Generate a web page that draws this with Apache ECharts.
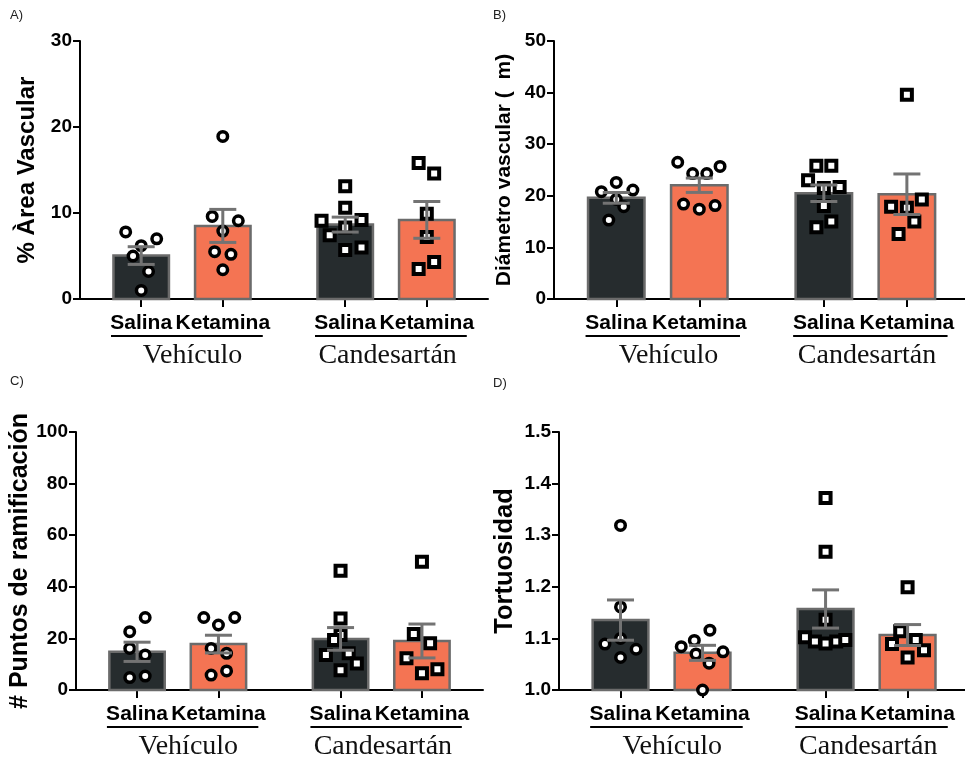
<!DOCTYPE html>
<html>
<head>
<meta charset="utf-8">
<script src="https://cdn.jsdelivr.net/npm/echarts@6/dist/echarts.min.js"></script>
<style>
html, body { margin: 0; padding: 0; background: #fff; }
#main { width: 965px; height: 764px; }
</style>
</head>
<body>
<div id="main"></div>
<script>
// categorias y grupos
var categories = ['Salina', 'Ketamina', 'Salina', 'Ketamina'];
var catX = [1, 2, 3.5, 4.5];
var groups = ['Vehículo', 'Candesartán'];
var panelTitles = ['A)', 'B)', 'C)', 'D)'];
var yNames = ['% Àrea Vascular', 'Diámetro vascular (  m)', '# Puntos de ramificación', 'Tortuosidad'];
var yMin = [0, 0, 0, 1.0];
var yMax = [30, 50, 100, 1.5];
var yStep = [10, 10, 20, 0.1];

// A) % area vascular
var meanA = [5.05, 8.5, 8.65, 9.2];
var semA = [1.03, 1.92, 0.87, 2.14];
var ptsA = [[7.8, 6.2, 7.0, 5.0, 3.2, 1.0], [18.9, 9.6, 9.1, 7.9, 5.5, 5.2, 3.4],
            [13.1, 10.6, 9.1, 9.2, 7.4, 8.3, 5.7, 6.0], [15.8, 14.6, 9.9, 7.2, 3.5, 4.3]];
var jitA = [[-0.19, 0, 0.19, -0.1, 0.09, 0], [0, -0.13, 0.19, 0, -0.1, 0.1, 0],
            [0, 0, -0.29, 0.2, -0.19, 0, 0, 0.2], [-0.1, 0.09, 0, 0, -0.1, 0.09]];

// B) diametro vascular
var meanB = [19.6, 22.05, 20.5, 20.3];
var semB = [1.04, 1.39, 1.6, 3.93];
var ptsB = [[20.8, 22.6, 21.1, 19.3, 17.9, 15.3], [26.5, 24.3, 24.3, 25.7, 18.4, 17.4, 18.1],
            [25.8, 25.8, 23.0, 21.7, 21.5, 18.0, 15.0, 13.9], [39.6, 17.9, 17.7, 19.3, 15.0, 12.6]];
var jitB = [[-0.18, 0, 0.2, 0, 0.09, -0.09], [-0.26, -0.08, 0.09, 0.25, -0.19, 0, 0.19],
            [-0.09, 0.09, -0.19, 0.19, 0, 0, 0.09, -0.09], [0, -0.19, 0, 0.18, 0.09, -0.1]];

// C) puntos de ramificacion
var meanC = [14.8, 17.8, 19.8, 19.0];
var semC = [3.73, 3.43, 4.39, 6.57];
var ptsC = [[28.1, 22.6, 16.1, 13.6, 4.8, 5.4], [28.1, 28.1, 25.2, 16.1, 14.2, 5.8, 7.4],
            [46.2, 27.7, 21.3, 19.4, 13.6, 14.2, 10.3, 7.7], [49.7, 21.7, 18.1, 12.3, 6.5, 8.0]];
var jitC = [[0.1, -0.09, -0.09, 0.1, -0.09, 0.1], [-0.18, 0.2, 0, -0.09, 0.1, -0.09, 0.1],
            [0, 0, 0, -0.08, -0.18, 0.1, 0.2, 0], [0, -0.1, 0.1, -0.19, 0, 0.19]];

// D) tortuosidad
var meanD = [1.1355, 1.072, 1.157, 1.1065];
var semD = [0.039, 0.0146, 0.037, 0.0203];
var ptsD = [[1.319, 1.161, 1.100, 1.089, 1.079, 1.063], [1.116, 1.096, 1.084, 1.074, 1.070, 1.052, 1.0],
            [1.372, 1.268, 1.136, 1.102, 1.094, 1.090, 1.094, 1.097], [1.199, 1.114, 1.089, 1.097, 1.077, 1.063]];
var jitD = [[0, 0, 0, -0.19, 0.19, 0], [0.09, -0.1, -0.26, 0.25, -0.08, 0.08, 0],
            [0, 0, 0, -0.25, -0.13, 0, 0.13, 0.24], [0, -0.09, -0.19, 0.1, 0.2, 0]];

var means = [meanA, meanB, meanC, meanD];
var sems = [semA, semB, semC, semD];
var pts = [ptsA, ptsB, ptsC, ptsD];
var jits = [jitA, jitB, jitC, jitD];

var sans = "'Liberation Sans', Arial, sans-serif";
var barColors = ['#262c2e', '#f47453'];

var grids = [
    { left: 80, top: 41, width: 408, height: 258 },
    { left: 554, top: 41, width: 411, height: 258 },
    { left: 76, top: 432, width: 407, height: 258 },
    { left: 559, top: 432, width: 406, height: 258 }
];
var xMax = [5.25, 5.2, 5.25, 5.2];
var nameGaps = [41, 39, 40, 41];
var nameSizes = [24, 21, 25, 25.5];
var titlePos = [[10, 9], [493, 9], [10, 375], [493, 377]];
var groupShift = [0.07, -0.04];

var myChart = echarts.init(document.getElementById('main'));

var option = {
    backgroundColor: '#fff',
    animation: false,
    title: [],
    grid: [],
    xAxis: [],
    yAxis: [],
    series: []
};

for (var p = 0; p < 4; p++) {
    option.title.push({
        text: panelTitles[p], left: titlePos[p][0], top: titlePos[p][1], padding: 0,
        textStyle: { fontSize: 13, fontWeight: 'normal', color: '#222', fontFamily: sans }
    });
    option.grid.push(grids[p]);
    option.xAxis.push({
        type: 'value', gridIndex: p, min: 0.25, max: xMax[p],
        splitLine: { show: false },
        axisLine: { onZero: false, lineStyle: { color: '#000', width: 2 } },
        axisTick: { customValues: catX, length: 8, lineStyle: { color: '#000', width: 2 } },
        axisLabel: {
            customValues: catX, margin: 14, color: '#000',
            fontSize: 21, fontWeight: 'bold', fontFamily: sans,
            formatter: function (v) { return categories[catX.indexOf(v)]; }
        }
    });
    option.yAxis.push({
        type: 'value', gridIndex: p, min: yMin[p], max: yMax[p], interval: yStep[p],
        name: yNames[p], nameLocation: 'middle', nameGap: nameGaps[p],
        nameTextStyle: { fontSize: nameSizes[p], fontWeight: 'bold', color: '#000', fontFamily: sans },
        splitLine: { show: false },
        axisLine: { show: true, lineStyle: { color: '#000', width: 2 } },
        axisTick: { show: true, length: 7, lineStyle: { color: '#000', width: 2 } },
        axisLabel: {
            margin: 8, color: '#000', fontSize: 19, fontWeight: 'bold', fontFamily: sans,
            formatter: (function (pp) {
                return function (v) { return pp === 3 ? v.toFixed(1) : String(v); };
            })(p)
        }
    });

    // barras
    var barData = catX.map(function (x, i) { return [x, means[p][i], sems[p][i], i]; });
    option.series.push({
        type: 'custom', xAxisIndex: p, yAxisIndex: p, z: 1,
        data: barData,
        renderItem: (function (pp) {
            return function (params, api) {
                var x = api.value(0), m = api.value(1), i = api.value(3);
                var a = api.coord([x - 0.34, m]);
                var b = api.coord([x + 0.34, yMin[pp]]);
                return {
                    type: 'rect',
                    shape: { x: a[0], y: a[1], width: b[0] - a[0], height: b[1] - a[1] },
                    style: { fill: barColors[i % 2], stroke: '#6b6b6b', lineWidth: 2.5 }
                };
            };
        })(p)
    });

    // puntos individuales
    var scData = [];
    for (var i = 0; i < 4; i++) {
        for (var k = 0; k < pts[p][i].length; k++) {
            scData.push({
                value: [catX[i] + jits[p][i][k], pts[p][i][k]],
                symbol: i < 2 ? 'circle' : 'rect',
                symbolSize: i < 2 ? 9.5 : 10,
                itemStyle: { borderWidth: i < 2 ? 3.5 : 4 }
            });
        }
    }
    option.series.push({
        type: 'scatter', xAxisIndex: p, yAxisIndex: p, z: 2, clip: false,
        data: scData,
        itemStyle: { color: '#fff', borderColor: '#000', opacity: 1 }
    });

    // error estandar
    option.series.push({
        type: 'custom', xAxisIndex: p, yAxisIndex: p, z: 3,
        data: barData,
        renderItem: function (params, api) {
            var x = api.value(0), m = api.value(1), s = api.value(2);
            var top = api.coord([x, m + s]);
            var bot = api.coord([x, m - s]);
            var st = { stroke: '#737373', lineWidth: 3 };
            return {
                type: 'group',
                children: [
                    { type: 'line', shape: { x1: top[0], y1: top[1], x2: bot[0], y2: bot[1] }, style: st },
                    { type: 'line', shape: { x1: top[0] - 13.5, y1: top[1], x2: top[0] + 13.5, y2: top[1] }, style: st },
                    { type: 'line', shape: { x1: bot[0] - 13.5, y1: bot[1], x2: bot[0] + 13.5, y2: bot[1] }, style: st }
                ]
            };
        }
    });

    // etiquetas de grupo
    option.series.push({
        type: 'custom', xAxisIndex: p, yAxisIndex: p, z: 3, clip: false, silent: true,
        data: [[0], [1]],
        renderItem: (function (pp) {
            return function (params, api) {
                var g = api.value(0);
                var l = api.coord([catX[g * 2] - 0.37, yMin[pp]]);
                var r = api.coord([catX[g * 2 + 1] + 0.49, yMin[pp]]);
                var c = api.coord([(catX[g * 2] + catX[g * 2 + 1]) / 2 + 0.06 + groupShift[g], yMin[pp]]);
                var ly = l[1] + 37;
                return {
                    type: 'group',
                    children: [
                        { type: 'line', shape: { x1: l[0], y1: ly, x2: r[0], y2: ly },
                          style: { stroke: '#000', lineWidth: 2 } },
                        { type: 'text', x: c[0], y: ly + 6,
                          style: { text: groups[g], fill: '#111', align: 'center', verticalAlign: 'top',
                                   font: "28px 'Liberation Serif', 'Times New Roman', serif" } }
                    ]
                };
            };
        })(p)
    });
}

myChart.setOption(option);
</script>
</body>
</html>
